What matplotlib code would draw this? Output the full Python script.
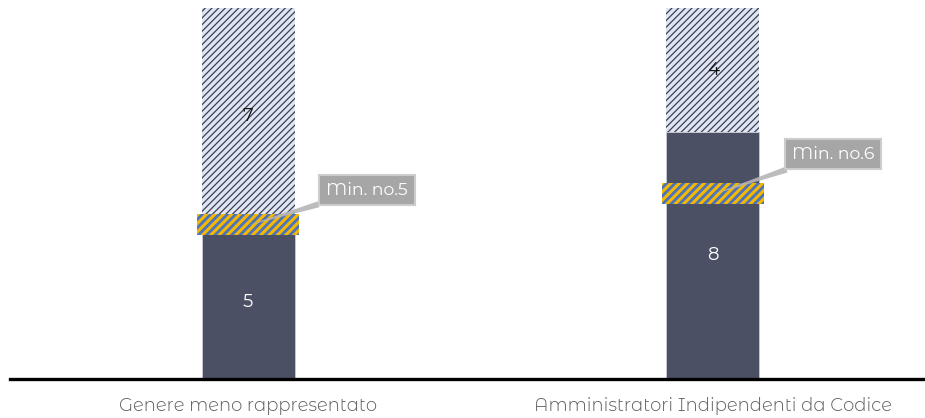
import matplotlib
matplotlib.use("Agg")
import matplotlib.pyplot as plt

categories = ["Genere meno rappresentato", "Amministratori Indipendenti da Codice"]
filled = [5, 8]
remaining = [7, 4]
minimum = [5, 6]
min_labels = ["Min. no.5", "Min. no.6"]

W, H = 925, 418
fig = plt.figure(figsize=(W / 100, H / 100), dpi=100)
ax = fig.add_axes([10 / W, 39 / H, 915 / W, 371 / H])

x = list(range(len(categories)))
dark = "#4b5064"
ax.bar(x, filled, width=0.2, color=dark, edgecolor="#c9ccd6", linewidth=0.6, zorder=2)
tops = ax.bar(x, remaining, bottom=filled, width=0.2, facecolor="#dfe5f2",
              edgecolor="#3a4052", hatch="/////", linewidth=0, zorder=2)
for p in tops:
    try:
        p.set_hatch_linewidth(0.9)
    except Exception:
        pass

band_h = 0.68
bands = ax.bar(x, [band_h] * len(x), bottom=[m - band_h / 2 for m in minimum], width=0.22,
               facecolor="#f5b800", edgecolor="#4a72c0", hatch="////", linewidth=0, zorder=3)
for p in bands:
    try:
        p.set_hatch_linewidth(2.0)
    except Exception:
        pass

font = ["Montserrat Alternates", "DejaVu Sans"]
for xi, f, r in zip(x, filled, remaining):
    ax.text(xi, f / 2, str(f), ha="center", va="center", color="white", fontsize=13,
            family=font, fontweight=400, zorder=5)
    ax.text(xi, f + r / 2, str(r), ha="center", va="center", color="#111111", fontsize=13,
            family=font, fontweight=400, zorder=5)

text_pos = [(0.256, 6.12), (1.258, 7.28)]
for xi, m, lab, (tx, ty) in zip(x, minimum, min_labels, text_pos):
    ax.annotate(lab, xy=(xi, m - 0.03), xytext=(tx, ty), ha="center", va="center",
                color="white", fontsize=12.5, family=font, fontweight=400, zorder=6,
                bbox=dict(boxstyle="square,pad=0.4", fc="#a6a6a6", ec="#cccccc", lw=1.5),
                arrowprops=dict(arrowstyle="wedge,tail_width=0.35,shrink_factor=0.5",
                                fc="#b5b5b5", ec="none", alpha=0.9, shrinkA=0, shrinkB=0))

ax.set_xlim(-0.512, 1.456)
ax.set_ylim(0, 12)
for s in ["top", "right", "left"]:
    ax.spines[s].set_visible(False)
ax.spines["bottom"].set_linewidth(2.4)
ax.spines["bottom"].set_color("black")
ax.spines["bottom"].set_zorder(7)
ax.set_yticks([])
ax.set_xticks(x)
ax.set_xticklabels(categories, fontsize=13, color="#5f5f5f", family=font, fontweight=300)
ax.tick_params(axis="x", length=0, pad=13)

fig.savefig("out.png", dpi=100)
